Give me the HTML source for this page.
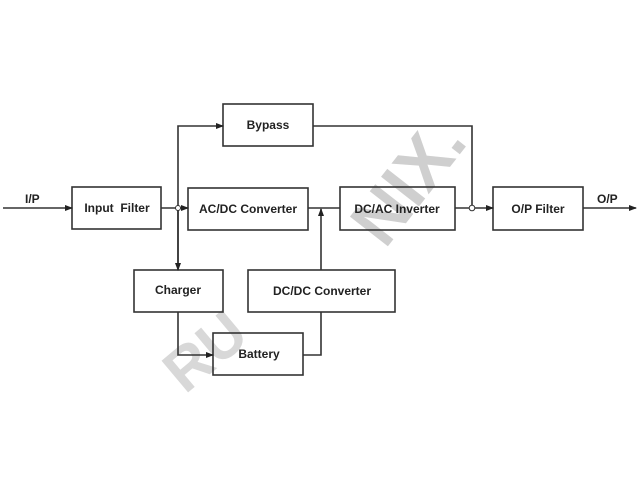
<!DOCTYPE html>
<html><head><style>
body{margin:0;background:#fff;}
svg text{font-family:"Liberation Sans",Arial,sans-serif;font-weight:bold;font-size:12px;fill:#222;}
</style></head><body>
<svg width="640" height="480" xmlns="http://www.w3.org/2000/svg">
<defs><marker id="a" markerWidth="8" markerHeight="8" refX="7" refY="4" orient="auto" markerUnits="userSpaceOnUse"><path d="M0,1 L8,4 L0,7z" fill="#222"/></marker></defs>
<g>
<text x="0" y="0" transform="translate(385,250) rotate(-52)" style="font-size:70px;fill:#cfcfcf">NIX.</text>
<text x="0" y="0" transform="translate(185,395) rotate(-40)" style="font-size:60px;fill:#d8d8d8">RU</text>
</g>
<g fill="none" stroke="#333" stroke-width="1.6">
<rect x="223" y="104" width="90" height="42"/>
<rect x="72" y="187" width="89" height="42"/>
<rect x="188" y="188" width="120" height="42"/>
<rect x="340" y="187" width="115" height="43"/>
<rect x="493" y="187" width="90" height="43"/>
<rect x="134" y="270" width="89" height="42"/>
<rect x="248" y="270" width="147" height="42"/>
<rect x="213" y="333" width="90" height="42"/>
<line x1="3" y1="208" x2="72" y2="208" marker-end="url(#a)"/>
<line x1="161" y1="208" x2="188" y2="208" marker-end="url(#a)"/>
<polyline points="178,268 178,126 223,126" marker-end="url(#a)"/>
<line x1="178" y1="208" x2="178" y2="270" marker-end="url(#a)"/>
<line x1="308" y1="208" x2="340" y2="208"/>
<line x1="321" y1="270" x2="321" y2="209" marker-end="url(#a)"/>
<polyline points="303,355 321,355 321,312"/>
<polyline points="178,312 178,355 213,355" marker-end="url(#a)"/>
<polyline points="313,126 472,126 472,205"/>
<line x1="455" y1="208" x2="493" y2="208" marker-end="url(#a)"/>
<line x1="583" y1="208" x2="636" y2="208" marker-end="url(#a)"/>
</g>
<circle cx="178" cy="208" r="2.5" fill="#fff" stroke="#333"/>
<circle cx="472" cy="208" r="2.8" fill="#fff" stroke="#333"/>
<text x="25" y="203">I/P</text>
<text x="597" y="203">O/P</text>
<text x="268" y="129" text-anchor="middle">Bypass</text>
<text x="117" y="212" text-anchor="middle">Input&#160; Filter</text>
<text x="248" y="213" text-anchor="middle">AC/DC Converter</text>
<text x="397" y="213" text-anchor="middle">DC/AC Inverter</text>
<text x="538" y="213" text-anchor="middle">O/P Filter</text>
<text x="178" y="294" text-anchor="middle">Charger</text>
<text x="322" y="295" text-anchor="middle">DC/DC Converter</text>
<text x="259" y="358" text-anchor="middle">Battery</text>
</svg>
</body></html>
